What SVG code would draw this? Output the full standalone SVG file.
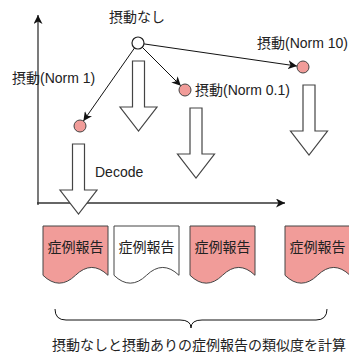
<svg xmlns="http://www.w3.org/2000/svg" width="349" height="354" viewBox="0 0 349 354">
<defs>
<style>
.t{font-family:"Liberation Sans","Noto Sans CJK JP",sans-serif;font-size:14px;fill:#222;}
.ax{stroke:#333;stroke-width:1.3;fill:none;}
.ln{stroke:#111;stroke-width:1;fill:none;}
.blk{fill:#fff;stroke:#444;stroke-width:1.2;}
.pt{fill:#F19C99;stroke:#444;stroke-width:1;}
.doc{stroke:#444;stroke-width:1;}
.red{fill:#F19C99;}
.wht{fill:#fff;}
</style>
<marker id="ah" markerUnits="userSpaceOnUse" markerWidth="10" markerHeight="9" refX="9" refY="4.5" orient="auto">
<path d="M0,0 L9,4.5 L0,9 L2.5,4.5 Z" fill="#111"/>
</marker>
<path id="docshape" d="M0,0 H65 V49.3 Q48.75,33.6 32.5,49.3 Q16.25,65 0,49.3 Z"/>
</defs>
<g id="axes">
<line class="ax" x1="38" y1="205" x2="38" y2="15" marker-end="url(#ah)"/>
<line class="ax" x1="37" y1="203" x2="285" y2="203" marker-end="url(#ah)"/>
</g>
<g id="connectors">
<line class="ln" x1="134.6" y1="47.9" x2="83.4" y2="121" marker-end="url(#ah)"/>
<line class="ln" x1="142.2" y1="47.2" x2="180.8" y2="85.8" marker-end="url(#ah)"/>
<line class="ln" x1="143.9" y1="43.9" x2="297" y2="66.1" marker-end="url(#ah)"/>
</g>
<g id="origin">
<circle cx="138" cy="43" r="6" fill="#fff" stroke="#222" stroke-width="1.2"/>
<text class="t" x="137" y="22" text-anchor="middle">摂動なし</text>
</g>
<g id="norm1">
<circle class="pt" cx="80" cy="126" r="6"/>
<text class="t" x="12" y="83">摂動(Norm 1)</text>
</g>
<g id="norm01">
<circle class="pt" cx="185" cy="90" r="6"/>
<text class="t" x="195" y="95">摂動(Norm 0.1)</text>
</g>
<g id="norm10">
<circle class="pt" cx="303" cy="67" r="6"/>
<text class="t" x="257" y="48">摂動(Norm 10)</text>
</g>
<g id="arrow0">
<path class="blk" d="M132.5,61 H144.5 V107 H157 L138.5,131 L120,107 H132.5 Z"/>
</g>
<g id="arrow1">
<path class="blk" d="M72.5,144 H84.5 V190 H97 L78.5,214 L60,190 H72.5 Z"/>
<text class="t" x="95" y="177">Decode</text>
</g>
<g id="arrow2">
<path class="blk" d="M190,108 H202 V154 H214.5 L196,178 L177.5,154 H190 Z"/>
</g>
<g id="arrow3">
<path class="blk" d="M303,85 H315 V131 H327.5 L309,155 L290.5,131 H303 Z"/>
</g>
<g id="doc1">
<use href="#docshape" class="doc red" x="43" y="226"/>
<text class="t" x="75.5" y="252" text-anchor="middle">症例報告</text>
</g>
<g id="doc2">
<use href="#docshape" class="doc wht" x="114" y="226"/>
<text class="t" x="146.5" y="252" text-anchor="middle">症例報告</text>
</g>
<g id="doc3">
<use href="#docshape" class="doc red" x="190" y="226"/>
<text class="t" x="222.5" y="252" text-anchor="middle">症例報告</text>
</g>
<g id="doc4">
<use href="#docshape" class="doc red" x="285" y="226"/>
<text class="t" x="317.5" y="252" text-anchor="middle">症例報告</text>
</g>
<g id="brace">
<path class="ln" stroke="#333" d="M55,309 Q55,320 66,320 H180 Q191,320 191,328 Q191,320 202,320 H316 Q327,320 327,309"/>
<text class="t" x="199" y="350" text-anchor="middle">摂動なしと摂動ありの症例報告の類似度を計算</text>
</g>
</svg>
